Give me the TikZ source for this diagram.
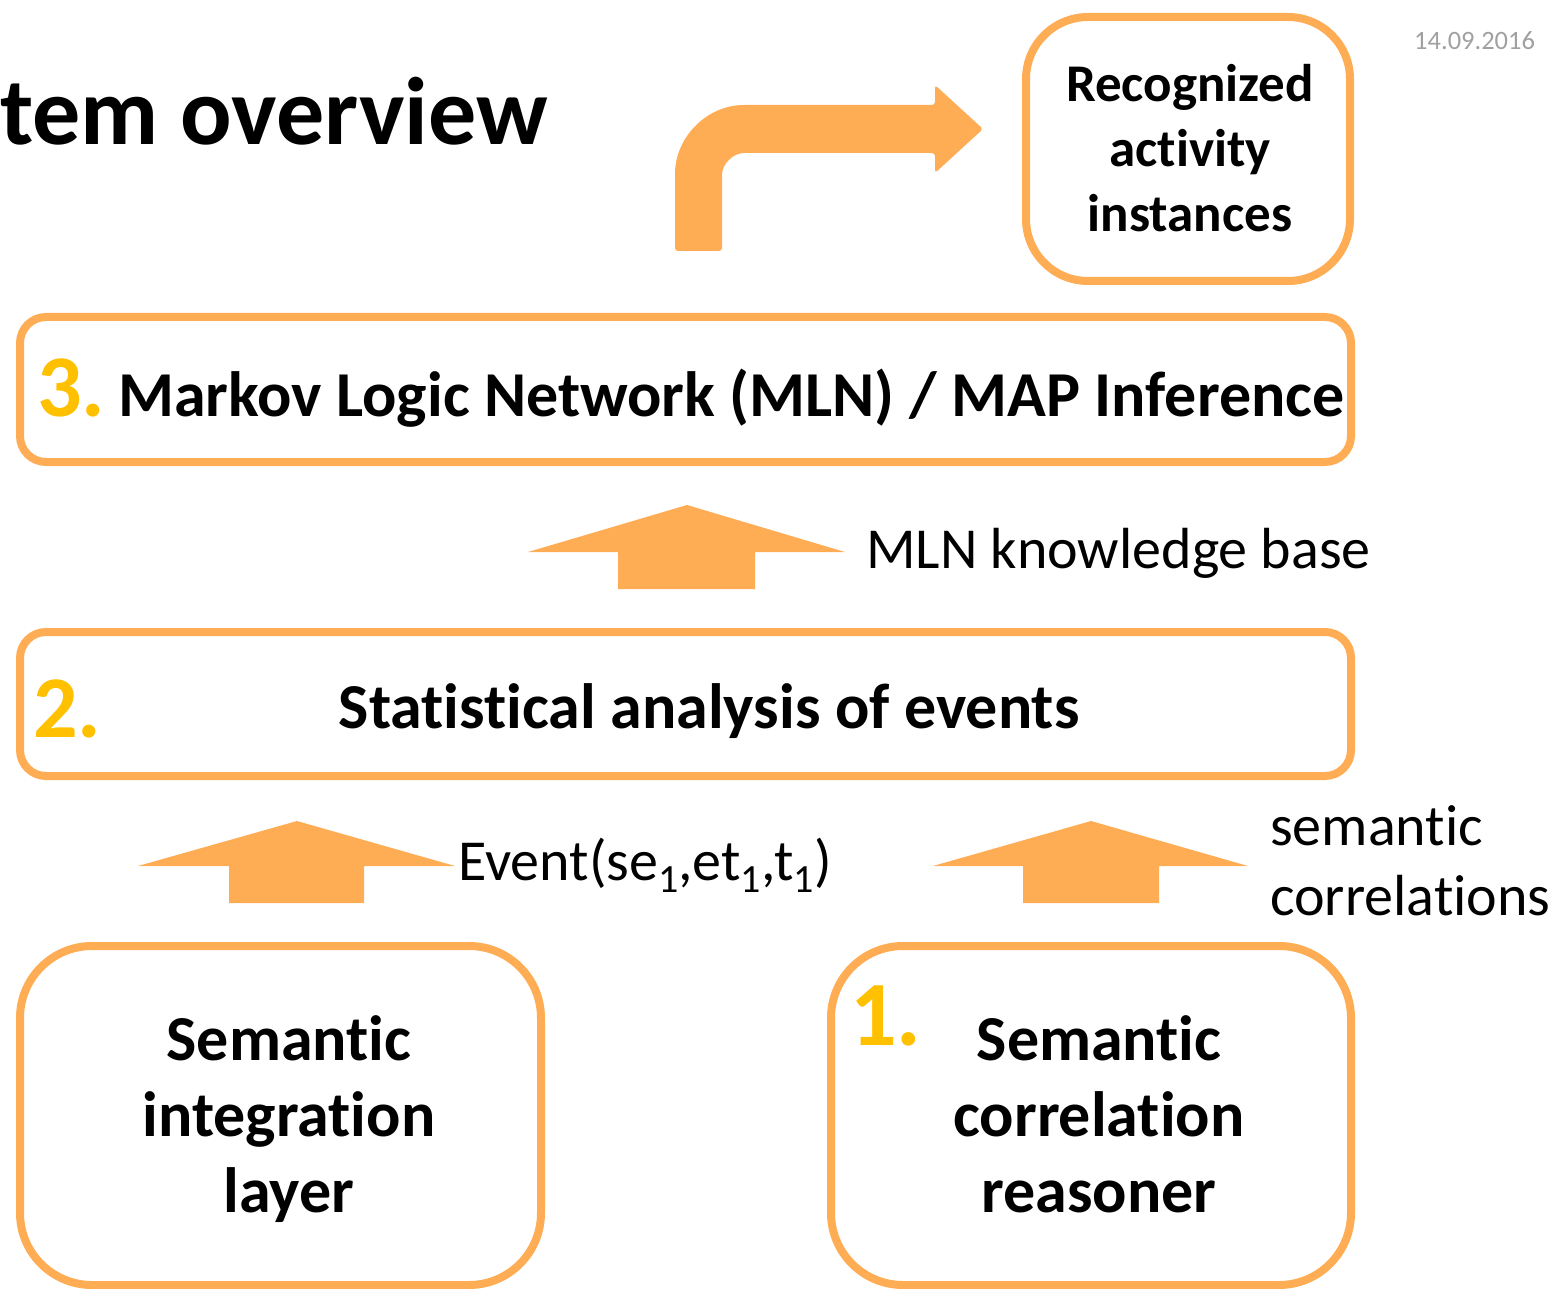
\documentclass[tikz,border=0pt]{standalone}
\usepackage{fontspec}
\setmainfont{Carlito}[Ligatures=NoCommon]
\definecolor{boxorange}{HTML}{FFAD55}
\definecolor{numyellow}{HTML}{FFC000}
\definecolor{dategray}{HTML}{A0A0A0}
\newcommand{\fs}[2]{\fontsize{#1}{#2}\selectfont}
\newcommand{\idx}[1]{\raisebox{-12pt}{\fs{40}{40}#1}}
\tikzset{
  layerbox/.style={draw=boxorange, line width=8pt, rounded corners=26pt,
    inner sep=0pt, fill=white},
  bigbox/.style={draw=boxorange, line width=8pt, rounded corners=72pt,
    inner sep=0pt, fill=white},
  flow/.style={fill=boxorange, draw=none},
  stepnum/.style={text=numyellow, inner sep=0pt, font=\bfseries\fs{88}{100}},
  boxtext/.style={inner sep=0pt, font=\bfseries\fs{64}{76}},
  label/.style={inner sep=0pt, font=\fs{58}{70}, align=left},
}
\begin{document}
\begin{tikzpicture}[x=1pt, y=-1pt]
\useasboundingbox (0,0) rectangle (1556,1289);

% title and date
\node[inner sep=0pt, anchor=base west, font=\bfseries\fs{96}{110}] (title) at (0,145) {tem overview};
\node[inner sep=0pt, anchor=base west, text=dategray, font=\fs{26.5}{30}] (date) at (1414,50) {14.09.2016};

% boxes
\node[bigbox, rounded corners=62pt, minimum width=324pt, minimum height=264pt] (out) at (1188,149) {};
\node[layerbox, minimum width=1331pt, minimum height=145pt] (mln) at (685.5,389.5) {};
\node[layerbox, minimum width=1331pt, minimum height=144pt] (stat) at (685.5,704) {};
\node[bigbox, minimum width=521pt, minimum height=339pt] (integ) at (280.5,1115.5) {};
\node[bigbox, minimum width=520pt, minimum height=339pt] (corr) at (1091,1115.5) {};

% box texts
\node[inner sep=0pt, align=center, font=\bfseries\fs{53}{65}] (outtext) at (1190,148) {Recognized\\activity\\instances};
\node[stepnum, anchor=base west] (n3) at (37,416) {3.};
\node[boxtext, anchor=base west] (mlntext) at (118,416) {Markov Logic Network (MLN) / MAP Inference};
\node[stepnum, anchor=base west] (n2) at (33,737) {2.};
\node[boxtext, anchor=base] (stattext) at (709,728) {Statistical analysis of events};
\node[inner sep=0pt, align=center, font=\bfseries\fs{64}{76}] (integtext) at (289,1119) {Semantic\\integration\\layer};
\node[stepnum, anchor=base west, font=\bfseries\fs{92}{100}] (n1) at (850,1045) {1.};
\node[inner sep=0pt, align=center, font=\bfseries\fs{64}{76}] (corrtext) at (1099,1114) {Semantic\\correlation\\reasoner};

% block arrows between the layers
\fill[flow] (528,552) -- (687,505) -- (845,552) -- (755,552) -- (755,589) -- (618,589) -- (618,552) -- cycle;
\fill[flow] (138,866) -- (297,821) -- (455,866) -- (364,866) -- (364,903) -- (229,903) -- (229,866) -- cycle;
\fill[flow] (933,866) -- (1091,821) -- (1248,866) -- (1159,866) -- (1159,903) -- (1023,903) -- (1023,866) -- cycle;

% bent arrow to the output
\fill[flow, rounded corners=3pt] (675,251) -- (675,177)
  .. controls (675,137) and (707,105) .. (747,105)
  -- (935,105) -- (935,85) -- (983,129) -- (935,173) -- (935,153) -- (747,153)
  .. controls (733,153) and (722,164) .. (722,178)
  -- (722,251) -- cycle;

% arrow labels
\node[label, anchor=base west] (kb) at (866,568) {MLN knowledge base};
\node[label, anchor=base west] (ev) at (458,880) {Event(se\idx{1},et\idx{1},t\idx{1})};
\node[label, anchor=base west] (sc) at (1270,915) {semantic\\correlations};
\end{tikzpicture}
\end{document}
